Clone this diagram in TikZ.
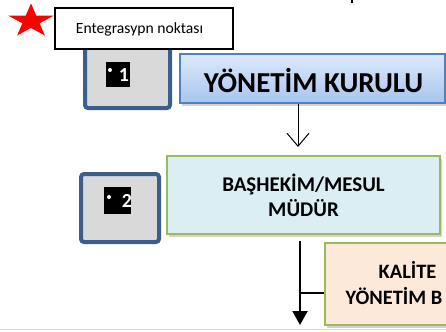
\documentclass[tikz,border=0pt]{standalone}
\usepackage{fontspec}
\setmainfont{Carlito}
\usetikzlibrary{shapes.geometric,arrows.meta,shadows,calc}
\definecolor{boxblue}{HTML}{3B5E8C}
\definecolor{boxgray}{HTML}{D9D9D9}
\definecolor{ykborder}{HTML}{4F81BD}
\definecolor{yktop}{HTML}{DDE9FB}
\definecolor{ykbot}{HTML}{A7C5EE}
\definecolor{greenb}{HTML}{9BBB59}
\definecolor{basfill}{HTML}{DBEEF4}
\definecolor{kalfill}{HTML}{FDE9D9}
\begin{document}
\begin{tikzpicture}[x=1bp,y=-1bp,
  numbox/.style={draw=boxblue,line width=4bp,fill=boxgray,rounded corners=3bp,inner sep=0pt},
  badge/.style={fill=black,inner sep=0pt},
  digit/.style={text=white,inner sep=0pt,font=\bfseries\fontsize{20}{20}\selectfont,text height=13.5bp,text depth=0pt},
  shadowed/.style={drop shadow={shadow xshift=2bp,shadow yshift=-3bp,opacity=0.35}},
  mainbox/.style={inner sep=0pt,shadowed},
  conn/.style={draw=black}
]
\useasboundingbox (0,0) rectangle (446,331);
\clip (0,0) rectangle (446,331);

% number boxes
\node[numbox,minimum width=85bp,minimum height=68bp] (n1) at (127.5,74) {};
\node[badge,minimum width=24bp,minimum height=25bp] (b1) at (118,74.5) {};
\node[digit] (d1) at (124,75) {1};
\fill[white] (110,70) circle (2bp);
\node[numbox,minimum width=78bp,minimum height=68bp] (n2) at (120,208) {};
\node[badge,minimum width=27bp,minimum height=27bp] (b2) at (117.5,200.5) {};
\node[digit] (d2) at (127,200.5) {2};
\fill[white] (109,197) circle (2bp);

% label box and star
\node[draw=black,line width=2bp,fill=white,minimum width=178bp,minimum height=41bp,inner sep=0pt] (lbl) at (144,28.5) {};
\node[inner sep=0pt,font=\fontsize{15.7}{15.7}\selectfont] (lbltext) at (139.5,29) {Entegrasypn noktası};
\begin{scope}[shift={(31,21.2)},x=23.7bp,y=17.7bp]
\fill[red] (90:1) -- (126:0.382) -- (162:1) -- (198:0.382) -- (234:1) -- (270:0.382)
  -- (306:1) -- (342:0.382) -- (18:1) -- (54:0.382) -- cycle;
\end{scope}

% YK box
\node[mainbox,draw=ykborder,line width=1.3bp,top color=yktop,bottom color=ykbot,
  minimum width=265bp,minimum height=49bp] (yk) at (312.5,78.5) {};
\node[font=\bfseries\fontsize{29}{29}\selectfont,inner sep=0pt,text height=19bp,text depth=0pt] (yktext) at (313.5,83) {YÖNETİM KURULU};

% BAŞHEKİM box
\node[mainbox,draw=greenb,line width=2bp,fill=basfill,minimum width=273bp,minimum height=78bp,
  align=center,font=\bfseries\fontsize{21}{25}\selectfont] (bas) at (303.5,195) {BAŞHEKİM/MESUL\\MÜDÜR};

% KALİTE box
\node[mainbox,draw=greenb,line width=2bp,fill=kalfill,minimum width=160bp,minimum height=82bp] (kal) at (405,284) {};
\node[inner sep=0pt,anchor=base west,font=\bfseries\fontsize{20.5}{20.5}\selectfont] (kal1) at (378.5,278) {KALİTE};
\node[inner sep=0pt,anchor=base west,font=\bfseries\fontsize{20.5}{20.5}\selectfont] (kal2) at (345.5,304) {YÖNETİM B};

% connectors
\coordinate (c1) at (298,0);
\coordinate (c2) at (300,0);
\draw[conn,line width=1bp,-{Straight Barb[length=13bp,width=22bp,line width=1bp]}] (yk.south -| c1) -- ($(bas.north -| c1)+(0,-8)$);
\draw[conn,line width=2bp,-{Triangle[length=14bp,width=15bp]}] ($(bas.south -| c2)+(0,6)$) -- ($(kal.south -| c2)+(0,-1)$);
\coordinate (br) at ($(kal.west)+(0,9)$);
\draw[conn,line width=1.5bp] (br -| c2) -- (br);

% bottom rule and speck
\draw[gray!30,line width=1bp] (0,329.5) -- (446,329.5);
\fill[black] (351,0) rectangle (353,2.5);
\end{tikzpicture}
\end{document}
